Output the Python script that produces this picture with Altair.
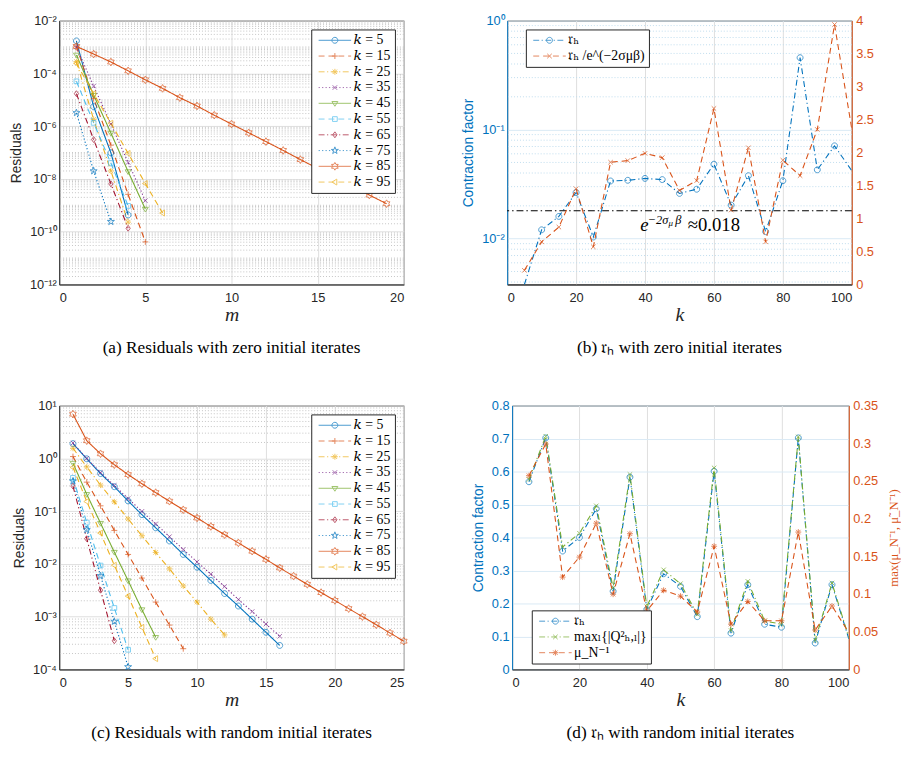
import math
import altair as alt
import pandas as pd

# ---------------- data ----------------
K_LABELS = ["𝑘 = 5", "𝑘 = 15", "𝑘 = 25", "𝑘 = 35", "𝑘 = 45",
            "𝑘 = 55", "𝑘 = 65", "𝑘 = 75", "𝑘 = 85", "𝑘 = 95"]

# (a) residuals, zero initial iterates, values for m = 1, 2, ...
A_K5 = [1.70e-3, 5.5e-6, 9.8e-8, 4.3e-10]
A_K15 = [1.07e-3, 1.1e-5, 1.9e-7, 2.6e-9, 4.1e-11]
A_K25 = [2.8e-4, 1.8e-6, 2.0e-8, 2.3e-10]
A_K35 = [1.0e-3, 3.3e-5, 1.2e-6, 4.2e-8, 1.5e-9]
A_K45 = [5.0e-4, 1.5e-5, 5.5e-7, 1.9e-8, 7.2e-10]
A_K55 = [5.0e-5, 1.33e-6, 4.0e-8, 9.5e-10]
A_K65 = [1.7e-5, 3.1e-7, 6.5e-9, 1.35e-10]
A_K75 = [3.2e-6, 2.0e-8, 2.4e-10]
A_K85 = [1.05e-3, 5.4e-4, 2.7e-4, 1.25e-4, 5.7e-5, 2.7e-5, 1.2e-5, 5.8e-6,
         2.6e-6, 1.2e-6, 5.6e-7, 2.6e-7, 1.2e-7, 5.4e-8, 2.5e-8, 1.15e-8,
         5.3e-9, 2.45e-9, 1.15e-9]
A_K95 = [2.4e-4, 1.7e-5, 1.3e-6, 9.3e-8, 6.7e-9, 5.1e-10]

# (c) residuals, random initial iterates
C_K5 = [1.90, 0.98, 0.514, 0.290, 0.156, 0.0857, 0.0483, 0.0272, 0.0151,
        0.00863, 0.00486, 0.00274, 0.00159, 0.000897, 0.000506, 0.000285]
C_K15 = [1.08, 0.354, 0.126, 0.0431, 0.0151, 0.00538, 0.00189, 0.000693, 0.000247]
C_K25 = [1.55, 0.685, 0.311, 0.150, 0.0711, 0.0342, 0.0165, 0.00804, 0.00382,
         0.00189, 0.000898, 0.000451]
C_K35 = [1.95, 0.996, 0.537, 0.307, 0.173, 0.0989, 0.0573, 0.0328, 0.0188,
         0.0109, 0.0064, 0.00371, 0.00212, 0.00125, 0.000723, 0.000426]
C_K45 = [0.813, 0.208, 0.059, 0.0167, 0.0048, 0.00136, 0.000407]
C_K55 = [0.427, 0.0607, 0.00929, 0.00146, 0.000236]
C_K65 = [0.298, 0.030, 0.00317, 0.000349]
C_K75 = [0.370, 0.0443, 0.00595, 0.000811, 0.000112]
C_K85 = [6.88, 2.16, 1.22, 0.757, 0.492, 0.330, 0.224, 0.154, 0.106, 0.0742,
         0.0512, 0.0357, 0.0250, 0.0174, 0.0122, 0.00840, 0.00587, 0.00410,
         0.00286, 0.00203, 0.00142, 0.00100, 0.000703, 0.000491, 0.000343]
C_K95 = [0.675, 0.152, 0.0384, 0.00942, 0.00245, 0.000627, 0.00016]

# (b) contraction factor, zero initial iterates
K_VALUES = [5, 10, 15, 20, 25, 30, 35, 40, 45, 50, 55, 60, 65, 70, 75, 80, 85, 90, 95, 100]
B_TAU = [0.0038, 0.01205, 0.0160, 0.0265, 0.01035, 0.0338, 0.0343, 0.0357, 0.0348,
         0.0260, 0.0284, 0.0482, 0.0203, 0.0378, 0.0116, 0.0340, 0.457, 0.0428,
         0.0710, 0.042]
B_RATIO = [0.214, 0.646, 0.870, 1.451, 0.571, 1.853, 1.878, 1.988, 1.923, 1.426,
           1.575, 2.668, 1.128, 2.072, 0.646, 1.883, 1.650, 2.350, 3.940, 2.36]
B_THRESH = 0.018

# (d) contraction factor, random initial iterates
D_TAU = [0.569, 0.702, 0.359, 0.400, 0.487, 0.237, 0.583, 0.182, 0.290, 0.252,
         0.160, 0.601, 0.110, 0.257, 0.137, 0.128, 0.702, 0.080, 0.257, 0.093]
D_Q = [0.576, 0.707, 0.371, 0.413, 0.496, 0.247, 0.591, 0.190, 0.302, 0.260,
       0.167, 0.611, 0.118, 0.267, 0.147, 0.137, 0.705, 0.088, 0.262, 0.097]
D_MU = [0.257, 0.299, 0.1225, 0.149, 0.194, 0.0998, 0.180, 0.0776, 0.105, 0.0972,
        0.0763, 0.1634, 0.0601, 0.0902, 0.0645, 0.0645, 0.1822, 0.0523, 0.0841, 0.049]

B_LEG = ["𝔯ₕ", "𝔯ₕ /e^(−2σμβ)"]
D_LEG = ["𝔯ₕ", "maxₗ{|Q²ₕ,ₗ|}", "μ_N⁻¹"]
CAPTIONS = ["(a) Residuals with zero initial iterates",
            "(b) 𝔯ₕ with zero initial iterates",
            "(c) Residuals with random initial iterates",
            "(d) 𝔯ₕ with random initial iterates"]

# ---------------- style ----------------
SANS = "Liberation Sans"
SERIF = "Liberation Serif"
LEGFONT = "Liberation Serif, DejaVu Serif, serif"
AX = "#262626"
GRID = "#dedede"
MINOR = "#c4c4c4"
BGRID = "#d9eaf5"
BMINOR = "#bfdcee"
BLUE = "#0072BD"
ORANGE = "#D95319"
YELLOW = "#EDB120"
PURPLE = "#7E2F8E"
GREEN = "#77AC30"
LBLUE = "#4DBEEE"
DRED = "#A2142F"

RES_COLORS = [BLUE, ORANGE, YELLOW, PURPLE, GREEN, LBLUE, DRED, BLUE, ORANGE, YELLOW]
RES_STYLES = ["-", "--", "-.", ":", "-", "--", "-.", ":", "-", "--"]
RES_MARKERS = ["o", "+", "*", "x", "v", "s", "d", "p", "h", "<"]
PX_DASH = {"-": [1, 0], "--": [6, 4], ":": [1.2, 2.2], "-.": [6, 3, 1.2, 3]}
UNIT_DASH = {"-": None, "--": [1.2, 0.8], ":": [0.25, 0.45], "-.": [1.2, 0.5, 0.25, 0.5]}


def f(v):
    s = f"{v:.3f}".rstrip("0").rstrip(".")
    return "0" if s in ("-0", "") else s


def poly(pts):
    return "M" + "L".join(f"{f(x)},{f(y)}" for x, y in pts) + "Z"


def star(n, r, ri):
    pts = []
    for i in range(2 * n):
        rad = r if i % 2 == 0 else ri
        a = -math.pi / 2 + i * math.pi / n
        pts.append((rad * math.cos(a), rad * math.sin(a)))
    return poly(pts)


def marker(name, r):
    if name == "o":
        return f"M{f(r)},0A{f(r)},{f(r)} 0 1,1 {f(-r)},0A{f(r)},{f(r)} 0 1,1 {f(r)},0Z"
    if name == "+":
        return f"M{f(-r)},0L{f(r)},0M0,{f(-r)}L0,{f(r)}"
    if name == "x":
        d = r * 0.75
        return f"M{f(-d)},{f(-d)}L{f(d)},{f(d)}M{f(-d)},{f(d)}L{f(d)},{f(-d)}"
    if name == "*":
        return marker("+", r) + marker("x", r)
    if name == "s":
        s = r * 0.8
        return poly([(-s, -s), (s, -s), (s, s), (-s, s)])
    if name == "d":
        return poly([(0, -r), (0.72 * r, 0), (0, r), (-0.72 * r, 0)])
    if name == "v":
        return poly([(-r, -0.6 * r), (r, -0.6 * r), (0, r)])
    if name == "<":
        return poly([(-r, 0), (0.65 * r, -r), (0.65 * r, r)])
    if name == "p":
        return star(5, 1.25 * r, 0.48 * r)
    if name == "h":
        return star(6, 1.3 * r, 0.75 * r)
    return ""


def dash_path(style, L):
    pat = UNIT_DASH[style]
    if pat is None:
        return f"M{f(-L)},0L{f(L)},0"
    out, x, i = [], -L, 0
    while x < L:
        seg = pat[i % len(pat)]
        if i % 2 == 0:
            out.append(f"M{f(x)},0L{f(min(x + seg, L))},0")
        x += seg
        i += 1
    return "".join(out)


def legend_path(style, mk):
    return dash_path(style, 3.3) + marker(mk, 0.6)


def sup(n):
    return "10" + str(n).translate(str.maketrans("-0123456789", "⁻⁰¹²³⁴⁵⁶⁷⁸⁹"))


def log_label_expr(lo, hi):
    arr = ",".join(f"'{sup(e)}'" for e in range(lo, hi + 1))
    return f"[{arr}][round(log(datum.value)/LN10) - ({lo})]"


def axis(**kw):
    base = dict(labelFont=SANS, labelFontSize=13, labelColor=AX, domainColor=AX,
                ticks=False, labelPadding=3, titleFont=SANS,
                titleFontSize=14, titleColor=AX, titleFontWeight="normal")
    base.update(kw)
    return alt.Axis(**base)


def xaxis(values, title):
    return axis(values=values, grid=True, gridColor=GRID, title=title, titleFont=SERIF,
                titleFontStyle="italic", titleFontSize=20, labelPadding=7, titlePadding=1)


def caption_title(text):
    return alt.TitleParams(text=text, orient="bottom", font=SERIF, fontSize=17.5,
                           fontWeight="normal", color="black", offset=15, anchor="middle")


def make_legend(size=14, **pos):
    return alt.Legend(title=None, offset=9, fillColor="white",
                      strokeColor=AX, padding=4, symbolSize=100, symbolStrokeWidth=1.0,
                      symbolOffset=13, labelOffset=12, labelFont=LEGFONT, labelFontSize=size,
                      labelColor="black", rowPadding=2, labelLimit=0, **pos)


def legend_layer(labels, colors, paths, **pos):
    leg = make_legend(**pos)
    return alt.Chart(pd.DataFrame({"s": labels})).transform_filter("false").mark_point(
        filled=False, strokeWidth=1.0).encode(
        color=alt.Color("s:N", scale=alt.Scale(domain=labels, range=colors), legend=leg),
        shape=alt.Shape("s:N", scale=alt.Scale(domain=labels, range=paths), legend=leg))


def residual_panel(series, ydom, lo, hi, major_exps, minor_vals, xmax, caption):
    rows = []
    for lab, vals in zip(K_LABELS, series):
        for i, v in enumerate(vals):
            rows.append({"s": lab, "m": i + 1, "v": v})
    df = pd.DataFrame(rows)
    xs = alt.Scale(domain=[0, xmax], nice=False)
    ys = alt.Scale(type="log", domain=ydom, nice=False)
    xax = xaxis(list(range(0, xmax + 1, 5)), "m")
    yax = axis(values=[10.0 ** e for e in major_exps], labelExpr=log_label_expr(lo, hi),
               grid=True, gridColor=GRID, title="Residuals", titlePadding=6)
    X = alt.X("m:Q", scale=xs, axis=xax)
    minor = alt.Chart(pd.DataFrame({"g": minor_vals})).mark_rule(
        color=MINOR, strokeDash=[1, 2], strokeWidth=1).encode(
        y=alt.Y("g:Q", scale=ys, axis=yax))
    cscale = alt.Scale(domain=K_LABELS, range=RES_COLORS)
    lines = alt.Chart(df).mark_line(strokeWidth=1.1).encode(
        x=X, y=alt.Y("v:Q", scale=ys, axis=yax),
        color=alt.Color("s:N", scale=cscale, legend=None),
        strokeDash=alt.StrokeDash("s:N", scale=alt.Scale(
            domain=K_LABELS, range=[PX_DASH[s] for s in RES_STYLES]), legend=None))
    pts = alt.Chart(df).mark_point(filled=False, size=36, strokeWidth=1.0).encode(
        x=X, y=alt.Y("v:Q", scale=ys, axis=yax),
        color=alt.Color("s:N", scale=cscale, legend=None),
        shape=alt.Shape("s:N", scale=alt.Scale(
            domain=K_LABELS, range=[marker(m, 1.0) for m in RES_MARKERS]), legend=None))
    leg = legend_layer(K_LABELS, RES_COLORS,
                       [legend_path(s, m) for s, m in zip(RES_STYLES, RES_MARKERS)],
                       orient="top-right")
    return alt.layer(minor, lines, pts, leg).resolve_scale(
        color="independent", shape="independent", strokeDash="independent"
    ).properties(width=350, height=268, title=caption_title(caption))


def panel_b():
    df = pd.DataFrame({"k": K_VALUES, "tau": B_TAU, "ratio": B_RATIO})
    xs = alt.Scale(domain=[0, 100], nice=False)
    yl = alt.Scale(type="log", domain=[0.0038, 1], nice=False)
    yr = alt.Scale(domain=[0, 4], nice=False)
    xax = xaxis([0, 20, 40, 60, 80, 100], "k")
    yax = axis(values=[0.01, 0.1, 1], labelExpr=log_label_expr(-2, 0), grid=True,
               gridColor=BGRID, labelColor=BLUE, domainColor=BLUE, title="Contraction factor",
               titleColor=BLUE, titlePadding=6)
    rax = axis(orient="right", values=[0, 0.5, 1, 1.5, 2, 2.5, 3, 3.5, 4], format="~g",
               labelColor=ORANGE, domainColor=ORANGE, grid=False, title=None, labelPadding=4)

    def XL(field="k"):
        return alt.X(f"{field}:Q", scale=xs, axis=xax)

    def YL(field):
        return alt.Y(f"{field}:Q", scale=yl, axis=yax)

    def YR(field):
        return alt.Y(f"{field}:Q", scale=yr, axis=rax)

    minor_vals = [d * 1e-3 for d in range(4, 10)] + [d * 1e-2 for d in range(2, 10)] + \
                 [d * 1e-1 for d in range(2, 10)]
    minor = alt.Chart(pd.DataFrame({"g": minor_vals})).mark_rule(
        color=BMINOR, strokeDash=[1, 2], strokeWidth=1).encode(y=YL("g"))
    tau_line = alt.Chart(df).mark_line(color=BLUE, strokeDash=PX_DASH["-."],
                                       strokeWidth=1.1, clip=True).encode(x=XL(), y=YL("tau"))
    tau_pts = alt.Chart(df).transform_filter("datum.k > 5 && datum.k < 100").mark_point(
        shape=marker("o", 1.0), size=36, filled=False, color=BLUE, strokeWidth=1.0).encode(
        x=XL(), y=YL("tau"))
    hline = alt.Chart(pd.DataFrame({"y": [B_THRESH]})).mark_rule(
        color="black", strokeDash=[7, 3, 1.5, 3], strokeWidth=1.1).encode(y=YL("y"))

    def txt(xv, yv, t, size, italic):
        kw = dict(align="left", baseline="alphabetic", font=SERIF, fontSize=size, color="black")
        if italic:
            kw["fontStyle"] = "italic"
        return alt.Chart(pd.DataFrame({"x": xv, "y": yv, "t": t})).mark_text(**kw).encode(
            x=XL("x"), y=YL("y"), text="t:N")

    big = txt([38.6], [0.01165], ["e"], 19, True)
    approx = txt([52.4], [0.01165], ["≈0.018"], 19, False)
    supt = txt([40.8, 48.8], [0.01367, 0.01367], ["−2σ", "β"], 12.5, True)
    subt = txt([46.8], [0.0131], ["μ"], 9, True)
    left = alt.layer(minor, tau_line, tau_pts, hline, big, approx, supt, subt)
    r_line = alt.Chart(df).mark_line(color=ORANGE, strokeDash=PX_DASH["--"],
                                     strokeWidth=1.1, clip=True).encode(x=XL(), y=YR("ratio"))
    r_pts = alt.Chart(df).transform_filter("datum.k < 100").mark_point(
        shape=marker("x", 1.0), size=36, filled=False, color=ORANGE, strokeWidth=1.0).encode(
        x=XL(), y=YR("ratio"))
    right = alt.layer(r_line, r_pts)
    leg = legend_layer(B_LEG, [BLUE, ORANGE],
                       [legend_path("-.", "o"), legend_path("--", "x")],
                       orient="none", legendX=19, legendY=9)
    return alt.layer(left, right, leg).resolve_scale(y="independent").properties(
        width=350, height=268, title=caption_title(CAPTIONS[1]))


def panel_d():
    df = pd.DataFrame({"k": K_VALUES, "tau": D_TAU, "q": D_Q, "mu": D_MU})
    xs = alt.Scale(domain=[0, 100], nice=False)
    yl = alt.Scale(domain=[0, 0.8], nice=False)
    yr = alt.Scale(domain=[0, 0.35], nice=False)
    xax = xaxis([0, 20, 40, 60, 80, 100], "k")
    yax = axis(values=[0, 0.1, 0.2, 0.3, 0.4, 0.5, 0.6, 0.7, 0.8], format="~g", grid=True,
               gridColor=BGRID, labelColor=BLUE, domainColor=BLUE, title="Contraction factor",
               titleColor=BLUE, titlePadding=6)
    rax = axis(orient="right", values=[0, 0.05, 0.1, 0.15, 0.2, 0.25, 0.3, 0.35], format="~g",
               labelColor=ORANGE, domainColor=ORANGE, grid=False,
               title="max(μ_N⁻¹, μ̃_N⁻¹)", titleColor=ORANGE, titleFont=SERIF,
               titleFontSize=13, titleAngle=270, titleBaseline="top", titlePadding=10,
               labelPadding=4)
    X = alt.X("k:Q", scale=xs, axis=xax)

    def YL(field):
        return alt.Y(f"{field}:Q", scale=yl, axis=yax)

    def YR(field):
        return alt.Y(f"{field}:Q", scale=yr, axis=rax)

    def series(field, color, dash, mk, Y):
        line = alt.Chart(df).mark_line(color=color, strokeDash=PX_DASH[dash],
                                       strokeWidth=1.1, clip=True).encode(x=X, y=Y(field))
        pts = alt.Chart(df).transform_filter("datum.k < 100").mark_point(
            shape=marker(mk, 1.0), size=36, filled=False, color=color,
            strokeWidth=1.0).encode(x=X, y=Y(field))
        return [line, pts]

    left = alt.layer(*series("tau", BLUE, "-.", "o", YL), *series("q", GREEN, "-.", "x", YL))
    right = alt.layer(*series("mu", ORANGE, "--", "*", YR))
    leg = legend_layer(D_LEG, [BLUE, GREEN, ORANGE],
                       [legend_path("-.", "o"), legend_path("-.", "x"), legend_path("--", "*")],
                       orient="none", legendX=20, legendY=208)
    return alt.layer(left, right, leg).resolve_scale(y="independent").properties(
        width=342, height=268, title=caption_title(CAPTIONS[3]))


A_SERIES = [A_K5, A_K15, A_K25, A_K35, A_K45, A_K55, A_K65, A_K75, A_K85, A_K95]
C_SERIES = [C_K5, C_K15, C_K25, C_K35, C_K45, C_K55, C_K65, C_K75, C_K85, C_K95]

a_minor = [d * 10.0 ** e for e in range(-12, -2) for d in range(1, 10)
           if not (d == 1 and e % 2 == 0)]
c_minor = [d * 10.0 ** e for e in range(-4, 1) for d in range(2, 10)]

pa = residual_panel(A_SERIES, [1e-12, 1e-2], -12, -2, [-12, -10, -8, -6, -4, -2],
                    a_minor, 20, CAPTIONS[0])
pc = residual_panel(C_SERIES, [1e-4, 10], -4, 1, [-4, -3, -2, -1, 0, 1],
                    c_minor, 25, CAPTIONS[2])
pb = panel_b()
pd_ = panel_d()

IND = dict(color="independent", shape="independent", strokeDash="independent")
row1 = alt.hconcat(pa, pb, spacing=57).resolve_scale(**IND).resolve_legend(**IND)
row2 = alt.hconcat(pc, pd_, spacing=62).resolve_scale(**IND).resolve_legend(**IND)
chart = alt.vconcat(row1, row2, spacing=42).resolve_scale(**IND).resolve_legend(**IND).properties(
    padding={"left": 0, "top": 0, "right": 0, "bottom": 0}
).configure_view(stroke=AX, strokeWidth=1)

chart.save("out.html", embed_options={"renderer": "svg", "actions": False})
